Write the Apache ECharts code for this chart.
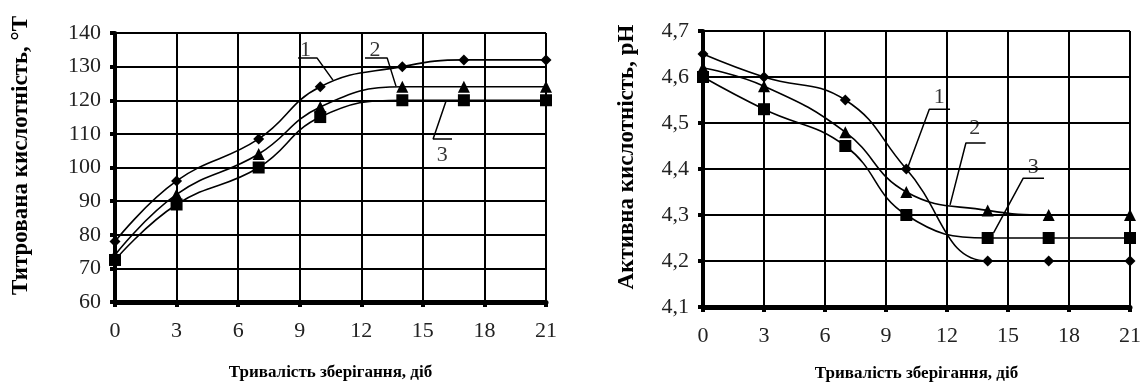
<!DOCTYPE html>
<html>
<head>
<meta charset="utf-8">
<script src="https://cdn.jsdelivr.net/npm/echarts@6/dist/echarts.min.js"></script>
<style>
html,body{margin:0;padding:0;background:#fff;}
#chart{width:1144px;height:387px;}
</style>
</head>
<body>
<div id="chart"></div>
<script>
// ---- data ----
const days = [0, 3, 7, 10, 14, 17, 21];
const xTicks = [0, 3, 6, 9, 12, 15, 18, 21];

// Titratable acidity, °T
const ta1 = [78, 96, 108.5, 124, 130, 132, 132];
const ta2 = [74, 92, 104, 118, 124, 124, 124];
const ta3 = [72.5, 89, 100, 115, 120, 120, 120];

// Active acidity, pH
const ph1 = [4.65, 4.60, 4.55, 4.40, 4.20, 4.20, 4.20];
const ph2 = [4.62, 4.58, 4.48, 4.35, 4.31, 4.30, 4.30];
const ph3 = [4.60, 4.53, 4.45, 4.30, 4.25, 4.25, 4.25];

// callout leader lines (data coordinates) and their numbers
const taLeader1 = [[8.92, 132.6], [9.84, 132.6], [10.62, 126.0]];
const taLeader2 = [[12.18, 132.6], [13.26, 132.6], [13.69, 124.2]];
const taLeader3 = [[16.42, 108.5], [15.50, 108.5], [16.13, 119.8]];
const taLabels = [['1', 9.28, 134.9], ['2', 12.67, 134.9], ['3', 15.94, 103.7]];

const phLeader1 = [[12.15, 4.530], [11.13, 4.530], [10.06, 4.402]];
const phLeader2 = [[13.90, 4.4565], [12.93, 4.4565], [12.15, 4.322]];
const phLeader3 = [[16.77, 4.380], [15.75, 4.380], [14.29, 4.261]];
const phLabels = [['1', 11.62, 4.557], ['2', 13.37, 4.489], ['3', 16.24, 4.404]];

const yTitleLeft = 'Титрована кислотність, °Т';
const yTitleRight = 'Активна кислотність, pH';
const xTitle = 'Тривалість зберігання, діб';

// ---- chart ----
const FONT = "'Liberation Serif', 'Times New Roman', serif";
const chart = echarts.init(document.getElementById('chart'), null, {renderer: 'canvas'});

function pairs(xs, ys) { return xs.map((x, i) => [x, ys[i]]); }

function xAxisCfg(gridIndex, gap, margin) {
  return {
    type: 'value', gridIndex, min: 0, max: 21, interval: 3,
    name: xTitle, nameLocation: 'middle', nameGap: gap,
    nameTextStyle: {fontFamily: FONT, fontWeight: 'bold', fontSize: 17, color: '#000'},
    axisLine: {show: true, onZero: false, lineStyle: {color: '#000', width: 5}},
    axisTick: {show: true, length: 5, lineStyle: {color: '#000', width: 4}},
    axisLabel: {fontFamily: FONT, fontSize: 22, color: '#222', margin: margin},
    splitLine: {show: true, lineStyle: {color: '#000', width: 2}}
  };
}

function yAxisCfg(gridIndex, min, max, interval, name, gap, fmt) {
  return {
    type: 'value', gridIndex, min, max, interval,
    name, nameLocation: 'middle', nameGap: gap, nameRotate: 90,
    nameTextStyle: {fontFamily: FONT, fontWeight: 'bold', fontSize: 23, color: '#000',
      padding: [0, 0, 0, 24]},
    axisLine: {show: true, lineStyle: {color: '#000', width: 4}},
    axisTick: {show: true, length: 5, lineStyle: {color: '#000', width: 4}},
    axisLabel: {fontFamily: FONT, fontSize: 22, color: '#222', margin: 14, formatter: fmt},
    splitLine: {show: true, lineStyle: {color: '#000', width: 2}}
  };
}

function dataSeries(xi, yi, data, symbol, size) {
  return {
    type: 'line', xAxisIndex: xi, yAxisIndex: yi, data,
    smooth: 0.45, symbol, symbolSize: size,
    lineStyle: {color: '#000', width: 1.6},
    itemStyle: {color: '#000'},
    z: 5
  };
}

function leader(xi, yi, data) {
  return {
    type: 'line', xAxisIndex: xi, yAxisIndex: yi, data,
    smooth: false, symbol: 'none', silent: true,
    lineStyle: {color: '#000', width: 1.5}, z: 4
  };
}

function labelSeries(xi, yi, labels) {
  return {
    type: 'scatter', xAxisIndex: xi, yAxisIndex: yi,
    data: labels.map(l => ({name: l[0], value: [l[1], l[2]]})),
    symbolSize: 0, silent: true,
    label: {show: true, position: 'inside', formatter: p => p.name,
      fontFamily: FONT, fontSize: 22, color: '#000'},
    z: 6
  };
}

const phFmt = v => v.toFixed(1).replace('.', ',');

chart.setOption({
  animation: false,
  backgroundColor: '#fff',
  grid: [
    {left: 115, right: 598, top: 33, bottom: 85, containLabel: false},
    {left: 703, right: 9, top: 31, bottom: 80, containLabel: false}
  ],
  xAxis: [xAxisCfg(0, 62, 18), xAxisCfg(1, 58, 18)],
  yAxis: [
    yAxisCfg(0, 60, 140, 10, yTitleLeft, 82, v => String(v)),
    yAxisCfg(1, 4.1, 4.7, 0.1, yTitleRight, 64, phFmt)
  ],
  series: [
    dataSeries(0, 0, pairs(days, ta1), 'diamond', 11),
    dataSeries(0, 0, pairs(days, ta2), 'triangle', 12),
    dataSeries(0, 0, pairs(days, ta3), 'rect', 12),
    leader(0, 0, taLeader1), leader(0, 0, taLeader2), leader(0, 0, taLeader3),
    labelSeries(0, 0, taLabels),
    dataSeries(1, 1, pairs(days, ph1), 'diamond', 11),
    dataSeries(1, 1, pairs(days, ph2), 'triangle', 12),
    dataSeries(1, 1, pairs(days, ph3), 'rect', 12),
    leader(1, 1, phLeader1), leader(1, 1, phLeader2), leader(1, 1, phLeader3),
    labelSeries(1, 1, phLabels)
  ]
});
</script>
</body>
</html>
